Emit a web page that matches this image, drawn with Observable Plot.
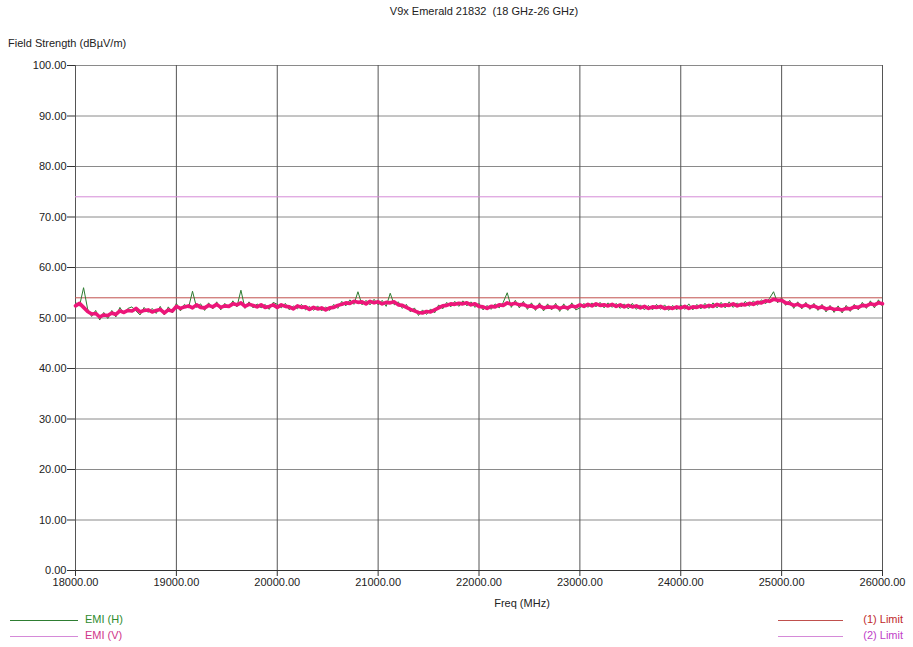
<!DOCTYPE html>
<html><head><meta charset="utf-8">
<script src="https://cdn.jsdelivr.net/npm/d3@7"></script>
<script src="https://cdn.jsdelivr.net/npm/@observablehq/plot@0.6"></script>
<style>
html,body{margin:0;padding:0;background:#fff;}
#wrap{position:relative;width:913px;height:647px;font-family:"Liberation Sans",Arial,sans-serif;font-size:11px;color:#222;}
#wrap svg{position:absolute;left:0;top:0;}
.t{position:absolute;white-space:pre;line-height:1;}
.ln{position:absolute;height:0;border-top:1px solid;}
</style></head>
<body><div id="wrap"></div>
<script>
const chartTitle = "V9x Emerald 21832  (18 GHz-26 GHz)";
const yTitle = "Field Strength (dBµV/m)";
const xTitle = "Freq (MHz)";
const freqStart = 18000, freqStep = 40;
const xTicks = [18000,19000,20000,21000,22000,23000,24000,25000,26000];
const yTicks = [0,10,20,30,40,50,60,70,80,90,100];
const limit1 = 54;
const limit2 = 74;
const seriesNames = ["EMI (H)","EMI (V)","(1) Limit","(2) Limit"];
const emiH = [
53.1,52.4,56.0,51.8,50.3,51.5,49.6,51.1,49.9,51.5,50.2,52.1,50.8,51.9,52.2,51.4,50.6,52.1,51.1,51.9,50.9,52.3,50.6,52.2,51.0,
52.9,51.4,52.7,52.0,55.3,52.1,52.8,51.5,53.0,51.8,53.2,51.6,52.9,52.0,53.4,52.2,55.5,51.9,53.2,52.0,52.8,52.0,52.7,51.7,53.1,
52.7,52.0,52.9,51.6,52.4,51.8,52.7,51.6,52.3,51.5,52.4,51.4,52.2,51.5,52.7,51.9,53.3,52.4,53.6,52.7,55.2,52.6,53.5,52.6,53.7,
52.6,53.5,52.3,54.9,52.6,53.2,51.9,52.7,51.2,52.0,50.5,51.6,50.7,51.8,51.0,52.6,51.8,53.1,52.2,53.3,52.3,53.4,52.4,53.2,52.1,
52.9,51.6,52.5,51.7,52.8,52.0,53.1,55.0,52.1,53.5,52.0,53.3,51.7,53.0,51.5,53.0,51.4,52.8,51.6,52.9,51.3,52.8,51.5,53.0,51.6,
52.0,52.9,52.1,53.0,52.2,53.1,52.0,53.0,52.1,52.9,51.9,52.8,51.8,52.9,51.7,52.6,51.6,52.5,51.6,52.7,51.7,52.6,51.5,52.5,51.6,
52.6,51.7,52.8,51.6,52.7,51.8,52.9,51.9,53.0,52.0,53.1,52.0,53.2,52.1,53.0,52.2,53.3,52.3,53.4,52.5,53.6,52.8,53.9,55.2,53.0,
54.0,52.5,53.5,51.9,53.2,51.8,53.1,51.7,52.9,51.5,52.7,51.2,52.5,51.1,52.4,51.0,52.5,51.3,52.7,51.6,53.1,51.9,53.4,52.0,53.6,
52.3];
const emiV = [
52.4,52.9,52.1,51.3,50.8,50.9,50.2,50.6,50.5,51.0,50.7,51.4,51.1,51.5,51.4,51.9,51.2,51.5,51.6,51.2,51.5,51.7,51.0,51.6,51.4,
52.3,51.9,52.2,52.4,52.0,52.6,52.1,52.0,52.5,52.2,52.7,52.1,52.4,52.3,52.8,52.6,53.0,52.3,52.7,52.5,52.2,52.6,52.1,52.3,52.6,
52.1,52.6,52.3,52.2,51.8,52.4,52.1,52.2,51.7,52.1,51.8,52.0,51.6,52.0,52.1,52.5,52.7,53.0,52.9,53.3,53.1,53.2,52.8,53.3,53.0,
53.2,52.8,53.1,53.0,53.2,52.6,52.5,52.1,51.7,51.4,51.1,51.0,51.3,51.2,51.6,52.0,52.4,52.5,52.8,52.7,52.9,52.8,53.0,52.6,52.8,
52.3,52.2,51.9,52.3,52.2,52.6,52.5,53.0,52.7,52.9,52.6,52.7,52.3,52.4,52.0,52.4,52.0,52.2,52.1,52.3,51.9,52.2,52.0,52.4,52.2,
52.6,52.3,52.7,52.4,52.8,52.5,52.6,52.4,52.7,52.3,52.6,52.2,52.5,52.2,52.4,52.0,52.3,51.9,52.2,52.1,52.3,51.9,52.1,51.9,52.2,
52.0,52.3,51.9,52.2,52.1,52.4,52.2,52.5,52.3,52.7,52.4,52.6,52.5,52.8,52.4,52.7,52.6,52.9,52.7,53.1,53.0,53.4,53.3,53.7,53.5,
53.5,53.0,52.9,52.5,52.7,52.3,52.6,52.2,52.4,52.0,52.2,51.8,52.0,51.7,51.8,51.6,51.9,51.8,52.2,52.1,52.5,52.4,52.8,52.6,53.0,
52.8];

const hData = emiH.map((v,i)=>({f: freqStart + i*freqStep, v}));
const vData = emiV.map((v,i)=>({f: freqStart + i*freqStep, v}));
const fmt = d3.format(".2f");

const colH = "#2e7d32", colV = "#ec1679", colL1 = "#c0504d", colL2 = "#d58ad8";

const svg = Plot.plot({
  width: 913, height: 647,
  marginLeft: 75, marginRight: 31, marginTop: 65, marginBottom: 77,
  style: {fontFamily: "'Liberation Sans', Arial, sans-serif", fontSize: "11px", color: "#222", background: "transparent", overflow: "visible"},
  x: {domain: [18000, 26000]},
  y: {domain: [0, 100]},
  marks: [
    Plot.gridY(yTicks, {stroke: "#8a8a8a", strokeOpacity: 1, strokeWidth: 1}),
    Plot.gridX(xTicks, {stroke: "#555", strokeOpacity: 1, strokeWidth: 1}),
    Plot.ruleY([0], {stroke: "#333", strokeWidth: 1.2}),
    Plot.axisX(xTicks, {tickSize: 6, tickPadding: 2, tickFormat: fmt, label: null, stroke: "#333"}),
    Plot.axisY(yTicks, {tickSize: 8, tickPadding: 1, tickFormat: fmt, label: null, stroke: "#333"}),
    Plot.ruleY([limit1], {stroke: colL1, strokeWidth: 1}),
    Plot.ruleY([limit2], {stroke: colL2, strokeWidth: 1}),
    Plot.line(hData, {x: "f", y: "v", stroke: colH, strokeWidth: 1}),
    Plot.line(vData, {x: "f", y: "v", stroke: colV, strokeWidth: 3.6, strokeLinejoin: "round"})
  ]
});
const wrap = document.getElementById("wrap");
wrap.appendChild(svg);

function addText(txt, x, y, color, align) {
  const d = document.createElement("div");
  d.className = "t";
  d.textContent = txt;
  d.style.top = y + "px";
  d.style.color = color || "#222";
  if (align === "center") { d.style.left = x + "px"; d.style.transform = "translateX(-50%)"; }
  else if (align === "right") { d.style.right = (913 - x) + "px"; }
  else d.style.left = x + "px";
  wrap.appendChild(d);
}
function addLine(x1, x2, y, color) {
  const d = document.createElement("div");
  d.className = "ln";
  d.style.left = x1 + "px"; d.style.width = (x2 - x1) + "px"; d.style.top = y + "px";
  d.style.borderTopColor = color;
  wrap.appendChild(d);
}
addText(chartTitle, 484, 6, "#222", "center");
addText(yTitle, 8, 38, "#222");
addText(xTitle, 522, 598, "#222", "center");
addLine(10, 78, 620, colH);
addText(seriesNames[0], 85, 614, "#2e8b2e");
addLine(10, 78, 636, colL2);
addText(seriesNames[1], 85, 630, "#d0368a");
addLine(778, 843, 620, colL1);
addText(seriesNames[2], 903, 614, "#c0282a", "right");
addLine(778, 843, 636, colL2);
addText(seriesNames[3], 903, 630, "#c040c8", "right");
</script></body></html>
